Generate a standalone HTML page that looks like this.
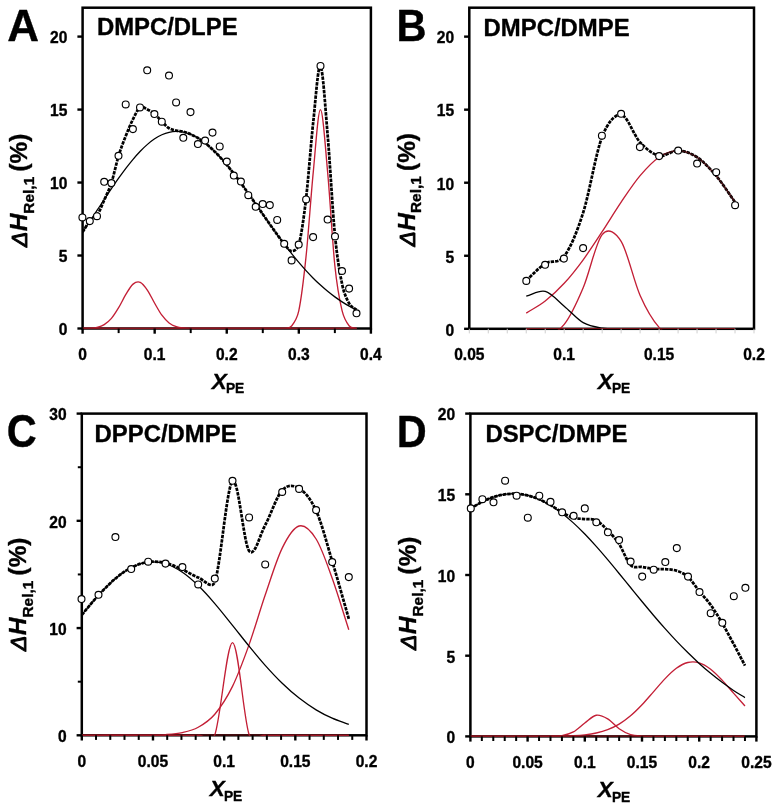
<!DOCTYPE html>
<html lang="en"><head><meta charset="utf-8"><title>Figure</title>
<style>html,body{margin:0;padding:0;background:#fff}body{width:779px;height:809px;overflow:hidden}</style>
</head><body>
<svg width="779" height="809" viewBox="0 0 779 809" style="display:block;filter:blur(0.4px);font-family:'Liberation Sans', Arial, Helvetica, sans-serif" fill="#000"><style>text{stroke:#000;stroke-width:.35px;stroke-linejoin:round}</style>
<rect width="779" height="809" fill="#fff"/>
<g><rect x="82.60" y="7.70" width="288.30" height="320.80" fill="none" stroke="#000" stroke-width="2.5"/>
<clipPath id="clipA"><rect x="82.60" y="6.70" width="288.30" height="322.50"/></clipPath><g clip-path="url(#clipA)">
<path d="M82.60 328.44 C85.00 328.36 87.40 328.39 89.81 328.20 C92.21 328.01 94.61 327.89 97.01 327.28 C99.42 326.67 101.82 326.05 104.22 324.56 C106.62 323.07 109.03 321.17 111.43 318.36 C113.83 315.55 116.23 311.67 118.64 307.69 C121.04 303.70 123.44 298.39 125.84 294.46 C128.25 290.53 130.65 286.13 133.05 284.11 C135.45 282.10 137.86 281.34 140.26 282.37 C142.66 283.40 145.06 286.80 147.47 290.28 C149.87 293.77 152.27 299.11 154.67 303.26 C157.08 307.42 159.48 311.94 161.88 315.22 C164.28 318.49 166.69 321.02 169.09 322.93 C171.49 324.83 173.89 325.79 176.30 326.64 C178.70 327.48 181.10 327.71 183.50 328.00 C185.91 328.30 188.31 328.31 190.71 328.39 C193.11 328.47 195.52 328.46 197.92 328.48 C200.32 328.50 202.72 328.49 205.13 328.50 C207.53 328.50 209.93 328.50 212.33 328.50 C214.74 328.50 217.14 328.50 219.54 328.50 C221.94 328.50 224.35 328.50 226.75 328.50 C229.15 328.50 231.55 328.50 233.96 328.50 C236.36 328.50 238.76 328.50 241.16 328.50 C243.57 328.50 245.97 328.50 248.37 328.50 C250.77 328.50 253.18 328.50 255.58 328.50 C257.98 328.50 260.38 328.50 262.79 328.50 C265.19 328.50 267.59 328.50 270.00 328.50 C272.40 328.50 274.80 328.50 277.20 328.50 C279.60 328.50 282.01 328.50 284.41 328.50 C286.81 328.50 289.21 328.50 291.62 328.50 C294.02 328.50 296.42 328.50 298.82 328.50 C301.23 328.50 303.63 328.50 306.03 328.50 C308.43 328.50 310.84 328.50 313.24 328.50 C315.64 328.50 318.04 328.50 320.45 328.50 C322.85 328.50 325.25 328.50 327.65 328.50 C330.06 328.50 332.46 328.50 334.86 328.50 C337.26 328.50 339.67 328.50 342.07 328.50 C344.47 328.50 346.87 328.50 349.28 328.50 C351.68 328.50 354.08 328.50 356.48 328.50" fill="none" stroke="#c31f36" stroke-width="1.35" stroke-linejoin="round"/>
<path d="M82.60 328.50 C85.00 328.50 87.40 328.50 89.81 328.50 C92.21 328.50 94.61 328.50 97.01 328.50 C99.42 328.50 101.82 328.50 104.22 328.50 C106.62 328.50 109.03 328.50 111.43 328.50 C113.83 328.50 116.23 328.50 118.64 328.50 C121.04 328.50 123.44 328.50 125.84 328.50 C128.25 328.50 130.65 328.50 133.05 328.50 C135.45 328.50 137.86 328.50 140.26 328.50 C142.66 328.50 145.06 328.50 147.47 328.50 C149.87 328.50 152.27 328.50 154.67 328.50 C157.08 328.50 159.48 328.50 161.88 328.50 C164.28 328.50 166.69 328.50 169.09 328.50 C171.49 328.50 173.89 328.50 176.30 328.50 C178.70 328.50 181.10 328.50 183.50 328.50 C185.91 328.50 188.31 328.50 190.71 328.50 C193.11 328.50 195.52 328.50 197.92 328.50 C200.32 328.50 202.72 328.50 205.13 328.50 C207.53 328.50 209.93 328.50 212.33 328.50 C214.74 328.50 217.14 328.50 219.54 328.50 C221.94 328.50 224.35 328.50 226.75 328.50 C229.15 328.50 231.55 328.50 233.96 328.50 C236.36 328.50 238.76 328.50 241.16 328.50 C243.57 328.50 245.97 328.50 248.37 328.50 C250.77 328.50 253.18 328.50 255.58 328.50 C257.98 328.50 260.38 328.50 262.79 328.50 C265.19 328.50 267.59 328.50 270.00 328.50 C272.40 328.50 274.80 328.52 277.20 328.49 C279.60 328.46 282.01 328.71 284.41 328.29 C286.81 327.87 289.22 328.89 291.62 325.96 C294.02 323.01 297.10 318.93 298.82 310.64 C301.23 299.08 303.63 279.68 306.03 256.63 C308.43 233.58 310.84 196.84 313.24 172.33 C315.64 147.82 318.04 109.57 320.45 109.57 C322.85 109.57 325.25 146.30 327.65 172.33 C330.06 198.36 332.46 242.69 334.86 265.74 C337.22 288.36 339.67 300.60 342.07 310.64 C344.04 318.87 346.87 323.01 349.28 325.96 C351.67 328.89 354.08 327.51 356.48 328.29" fill="none" stroke="#c31f36" stroke-width="1.35" stroke-linejoin="round"/>
<path d="M82.60 232.13 C85.00 228.54 87.40 224.99 89.81 221.37 C92.21 217.76 94.61 214.08 97.01 210.42 C99.42 206.77 101.82 203.08 104.22 199.45 C106.62 195.82 109.03 192.18 111.43 188.64 C113.83 185.11 116.23 181.59 118.64 178.21 C121.04 174.83 123.44 171.51 125.84 168.36 C128.25 165.21 130.65 162.16 133.05 159.31 C135.45 156.45 137.86 153.74 140.26 151.25 C142.66 148.76 145.06 146.43 147.47 144.37 C149.87 142.30 152.27 140.43 154.67 138.83 C157.08 137.23 159.48 135.86 161.88 134.77 C164.28 133.68 166.69 132.85 169.09 132.30 C171.49 131.75 173.89 131.48 176.30 131.47 C178.70 131.45 181.10 131.72 183.50 132.21 C185.91 132.70 188.31 133.45 190.71 134.42 C193.11 135.40 195.52 136.62 197.92 138.06 C200.32 139.49 202.72 141.17 205.13 143.03 C207.53 144.89 209.93 146.99 212.33 149.24 C214.74 151.49 217.14 153.95 219.54 156.54 C221.94 159.13 224.35 161.91 226.75 164.79 C229.15 167.67 231.55 170.70 233.96 173.81 C236.36 176.92 238.76 180.16 241.16 183.44 C243.57 186.72 245.97 190.10 248.37 193.50 C250.77 196.89 253.18 200.35 255.58 203.80 C257.98 207.25 260.38 210.74 262.79 214.19 C265.19 217.63 267.59 221.10 270.00 224.50 C272.40 227.90 274.80 231.28 277.20 234.59 C279.60 237.90 282.01 241.16 284.41 244.34 C286.81 247.52 289.21 250.63 291.62 253.65 C294.02 256.66 296.42 259.60 298.82 262.43 C301.23 265.26 303.63 267.99 306.03 270.62 C308.43 273.24 310.84 275.76 313.24 278.17 C315.64 280.58 318.04 282.88 320.45 285.07 C322.85 287.26 325.25 289.34 327.65 291.31 C330.06 293.28 332.46 295.13 334.86 296.89 C337.26 298.64 339.67 300.29 342.07 301.83 C344.47 303.38 346.87 304.82 349.28 306.18 C351.68 307.53 354.08 308.69 356.48 309.95" fill="none" stroke="#000" stroke-width="1.3" stroke-linejoin="round"/>
<path d="M82.60 232.07 C85.00 228.40 87.40 223.85 89.81 221.07 C92.21 218.29 94.61 218.89 97.01 215.39 C99.42 211.89 101.82 205.49 104.22 200.06 C106.62 194.64 109.03 190.24 111.43 182.84 C113.83 175.45 116.23 163.53 118.64 155.69 C121.04 147.86 123.44 141.95 125.84 135.84 C128.25 129.74 130.65 123.83 133.05 119.06 C135.45 114.29 137.86 108.82 140.26 107.24 C142.66 105.66 145.06 108.45 147.47 109.57 C149.87 110.69 152.27 111.93 154.67 113.95 C157.08 115.97 159.48 119.30 161.88 121.69 C164.28 124.07 166.69 126.77 169.09 128.26 C171.49 129.74 173.89 130.01 176.30 130.59 C178.70 131.17 181.10 131.09 183.50 131.71 C185.91 132.33 188.31 133.26 190.71 134.32 C193.11 135.37 195.52 136.59 197.92 138.04 C200.32 139.49 202.72 141.16 205.13 143.03 C207.53 144.90 209.93 146.98 212.33 149.24 C214.74 151.49 217.14 153.95 219.54 156.54 C221.94 159.13 224.35 161.91 226.75 164.79 C229.15 167.67 231.55 170.70 233.96 173.81 C236.36 176.92 238.76 180.16 241.16 183.44 C243.57 186.72 245.97 190.10 248.37 193.50 C250.77 196.89 253.18 200.35 255.58 203.80 C257.98 207.25 260.38 210.74 262.79 214.19 C265.19 217.63 267.59 221.10 270.00 224.50 C272.40 227.89 274.80 231.31 277.20 234.58 C279.60 237.85 282.01 241.38 284.41 244.13 C286.81 246.89 289.21 251.03 291.62 251.11 C294.02 251.18 297.53 249.26 298.82 244.57 C301.23 235.84 303.63 219.17 306.03 198.74 C308.43 178.32 310.84 144.11 313.24 122.01 C315.64 99.91 318.04 63.96 320.45 66.15 C322.85 68.34 325.25 107.14 327.65 135.14 C330.06 163.14 332.46 209.32 334.86 234.13 C337.26 258.94 339.67 272.39 342.07 283.97 C344.20 294.22 346.87 299.34 349.28 303.63 C351.58 307.76 354.08 307.71 356.48 309.74" fill="none" stroke="#000" stroke-width="2.75" stroke-dasharray="3.4 1.05" stroke-linejoin="round"/>
</g>
<line x1="82.60" y1="328.20" x2="356.48" y2="328.20" stroke="#7a1016" stroke-width="1.1"/>
<line x1="77.40" y1="328.50" x2="82.60" y2="328.50" stroke="#000" stroke-width="2.4"/>
<line x1="77.40" y1="255.52" x2="82.60" y2="255.52" stroke="#000" stroke-width="2.4"/>
<line x1="77.40" y1="182.55" x2="82.60" y2="182.55" stroke="#000" stroke-width="2.4"/>
<line x1="77.40" y1="109.57" x2="82.60" y2="109.57" stroke="#000" stroke-width="2.4"/>
<line x1="77.40" y1="36.60" x2="82.60" y2="36.60" stroke="#000" stroke-width="2.4"/>
<text transform="translate(67.40 335.30) scale(1 1.060)" text-anchor="end" font-size="15.6" font-weight="bold">0</text>
<text transform="translate(67.40 262.32) scale(1 1.060)" text-anchor="end" font-size="15.6" font-weight="bold">5</text>
<text transform="translate(67.40 189.35) scale(1 1.060)" text-anchor="end" font-size="15.6" font-weight="bold">10</text>
<text transform="translate(67.40 116.37) scale(1 1.060)" text-anchor="end" font-size="15.6" font-weight="bold">15</text>
<text transform="translate(67.40 43.40) scale(1 1.060)" text-anchor="end" font-size="15.6" font-weight="bold">20</text>
<line x1="82.60" y1="328.50" x2="82.60" y2="333.70" stroke="#000" stroke-width="2.40"/>
<line x1="118.64" y1="328.50" x2="118.64" y2="333.10" stroke="#000" stroke-width="2.00"/>
<line x1="154.67" y1="328.50" x2="154.67" y2="333.70" stroke="#000" stroke-width="2.40"/>
<line x1="190.71" y1="328.50" x2="190.71" y2="333.10" stroke="#000" stroke-width="2.00"/>
<line x1="226.75" y1="328.50" x2="226.75" y2="333.70" stroke="#000" stroke-width="2.40"/>
<line x1="262.79" y1="328.50" x2="262.79" y2="333.10" stroke="#000" stroke-width="2.00"/>
<line x1="298.82" y1="328.50" x2="298.82" y2="333.70" stroke="#000" stroke-width="2.40"/>
<line x1="334.86" y1="328.50" x2="334.86" y2="333.10" stroke="#000" stroke-width="2.00"/>
<line x1="370.90" y1="328.50" x2="370.90" y2="333.70" stroke="#000" stroke-width="2.40"/>
<text transform="translate(82.60 359.80) scale(1 1.060)" text-anchor="middle" font-size="15.6" font-weight="bold">0</text>
<text transform="translate(154.67 359.80) scale(1 1.060)" text-anchor="middle" font-size="15.6" font-weight="bold">0.1</text>
<text transform="translate(226.75 359.80) scale(1 1.060)" text-anchor="middle" font-size="15.6" font-weight="bold">0.2</text>
<text transform="translate(298.82 359.80) scale(1 1.060)" text-anchor="middle" font-size="15.6" font-weight="bold">0.3</text>
<text transform="translate(370.90 359.80) scale(1 1.060)" text-anchor="middle" font-size="15.6" font-weight="bold">0.4</text>
<circle cx="82.4" cy="217.4" r="3.45" fill="#fff" stroke="#000" stroke-width="1.15"/>
<circle cx="89.8" cy="221.1" r="3.45" fill="#fff" stroke="#000" stroke-width="1.15"/>
<circle cx="97.0" cy="216.2" r="3.45" fill="#fff" stroke="#000" stroke-width="1.15"/>
<circle cx="104.2" cy="181.8" r="3.45" fill="#fff" stroke="#000" stroke-width="1.15"/>
<circle cx="111.4" cy="183.0" r="3.45" fill="#fff" stroke="#000" stroke-width="1.15"/>
<circle cx="118.5" cy="155.8" r="3.45" fill="#fff" stroke="#000" stroke-width="1.15"/>
<circle cx="125.7" cy="104.4" r="3.45" fill="#fff" stroke="#000" stroke-width="1.15"/>
<circle cx="132.9" cy="129.1" r="3.45" fill="#fff" stroke="#000" stroke-width="1.15"/>
<circle cx="140.0" cy="107.4" r="3.45" fill="#fff" stroke="#000" stroke-width="1.15"/>
<circle cx="147.2" cy="70.3" r="3.45" fill="#fff" stroke="#000" stroke-width="1.15"/>
<circle cx="154.4" cy="114.0" r="3.45" fill="#fff" stroke="#000" stroke-width="1.15"/>
<circle cx="161.8" cy="121.7" r="3.45" fill="#fff" stroke="#000" stroke-width="1.15"/>
<circle cx="169.0" cy="75.5" r="3.45" fill="#fff" stroke="#000" stroke-width="1.15"/>
<circle cx="176.1" cy="102.4" r="3.45" fill="#fff" stroke="#000" stroke-width="1.15"/>
<circle cx="183.3" cy="137.8" r="3.45" fill="#fff" stroke="#000" stroke-width="1.15"/>
<circle cx="190.5" cy="112.1" r="3.45" fill="#fff" stroke="#000" stroke-width="1.15"/>
<circle cx="197.9" cy="144.0" r="3.45" fill="#fff" stroke="#000" stroke-width="1.15"/>
<circle cx="205.1" cy="140.5" r="3.45" fill="#fff" stroke="#000" stroke-width="1.15"/>
<circle cx="212.5" cy="132.6" r="3.45" fill="#fff" stroke="#000" stroke-width="1.15"/>
<circle cx="219.7" cy="146.4" r="3.45" fill="#fff" stroke="#000" stroke-width="1.15"/>
<circle cx="226.8" cy="161.5" r="3.45" fill="#fff" stroke="#000" stroke-width="1.15"/>
<circle cx="233.8" cy="175.5" r="3.45" fill="#fff" stroke="#000" stroke-width="1.15"/>
<circle cx="240.9" cy="181.5" r="3.45" fill="#fff" stroke="#000" stroke-width="1.15"/>
<circle cx="248.3" cy="195.2" r="3.45" fill="#fff" stroke="#000" stroke-width="1.15"/>
<circle cx="255.7" cy="206.8" r="3.45" fill="#fff" stroke="#000" stroke-width="1.15"/>
<circle cx="262.7" cy="204.0" r="3.45" fill="#fff" stroke="#000" stroke-width="1.15"/>
<circle cx="269.8" cy="205.1" r="3.45" fill="#fff" stroke="#000" stroke-width="1.15"/>
<circle cx="277.2" cy="219.9" r="3.45" fill="#fff" stroke="#000" stroke-width="1.15"/>
<circle cx="284.2" cy="243.8" r="3.45" fill="#fff" stroke="#000" stroke-width="1.15"/>
<circle cx="291.6" cy="260.4" r="3.45" fill="#fff" stroke="#000" stroke-width="1.15"/>
<circle cx="298.7" cy="244.5" r="3.45" fill="#fff" stroke="#000" stroke-width="1.15"/>
<circle cx="306.1" cy="199.4" r="3.45" fill="#fff" stroke="#000" stroke-width="1.15"/>
<circle cx="313.1" cy="237.1" r="3.45" fill="#fff" stroke="#000" stroke-width="1.15"/>
<circle cx="320.5" cy="65.9" r="3.45" fill="#fff" stroke="#000" stroke-width="1.15"/>
<circle cx="327.6" cy="219.5" r="3.45" fill="#fff" stroke="#000" stroke-width="1.15"/>
<circle cx="335.0" cy="236.4" r="3.45" fill="#fff" stroke="#000" stroke-width="1.15"/>
<circle cx="342.0" cy="271.0" r="3.45" fill="#fff" stroke="#000" stroke-width="1.15"/>
<circle cx="349.1" cy="288.6" r="3.45" fill="#fff" stroke="#000" stroke-width="1.15"/>
<circle cx="356.5" cy="313.3" r="3.45" fill="#fff" stroke="#000" stroke-width="1.15"/>
<text x="96.9" y="35.2" font-size="23.9" font-weight="bold">DMPC/DLPE</text>
<text transform="translate(7.3 40.6) scale(1 1.014)" font-size="44.0" font-weight="bold">A</text>
<text transform="translate(26.9 190.4) rotate(-90) scale(1.06 1)" text-anchor="middle" font-size="23" font-weight="bold"><tspan font-style="italic" font-weight="normal" font-size="21.5" style="stroke-width:.9px">Δ</tspan><tspan font-style="italic" dx="0.5">H</tspan><tspan font-size="14.6" dy="6.6">Rel,1</tspan><tspan dy="-6.6" dx="-1.5"> (%)</tspan></text>
<text x="211.7" y="388.7" font-size="22.5" font-weight="bold"><tspan font-style="italic">X</tspan><tspan font-size="13.8" dy="4.7" dx="-0.8">PE</tspan></text></g>
<g><rect x="469.30" y="7.70" width="284.70" height="321.10" fill="none" stroke="#000" stroke-width="2.5"/>
<clipPath id="clipB"><rect x="469.30" y="6.70" width="284.70" height="322.80"/></clipPath><g clip-path="url(#clipB)">
<path d="M526.24 313.09 C532.57 309.07 538.89 306.00 545.22 301.04 C551.55 296.08 557.87 290.21 564.20 283.33 C570.53 276.45 576.85 268.39 583.18 259.78 C589.51 251.17 595.83 241.29 602.16 231.68 C608.49 222.07 614.81 211.47 621.14 202.13 C627.47 192.80 633.79 183.16 640.12 175.67 C646.45 168.18 652.77 161.39 659.10 157.21 C665.43 153.03 671.75 150.57 678.08 150.57 C684.41 150.57 690.73 153.03 697.06 157.21 C703.39 161.39 709.71 168.18 716.04 175.67 C722.37 183.16 728.69 193.31 735.02 202.13" fill="none" stroke="#c31f36" stroke-width="1.35" stroke-linejoin="round"/>
<path d="M526.24 328.80 C532.57 330.99 538.89 336.10 545.22 335.37 C551.55 334.64 557.87 332.35 564.20 324.42 C570.53 316.48 576.85 302.72 583.18 287.75 C589.51 272.78 595.83 242.29 602.16 234.57 C608.49 226.86 615.80 232.87 621.14 241.44 C627.47 251.59 633.79 281.18 640.12 295.49 C646.45 309.81 652.77 320.33 659.10 327.34 C665.43 334.35 671.75 335.86 678.08 337.57 C684.41 339.27 690.73 337.57 697.06 337.57 C703.39 337.57 709.71 337.57 716.04 337.57 C722.37 337.57 728.69 337.57 735.02 337.57" fill="none" stroke="#c31f36" stroke-width="1.35" stroke-linejoin="round"/>
<path d="M526.24 296.11 C532.57 294.53 538.89 289.69 545.22 291.36 C551.55 293.03 557.87 300.93 564.20 306.14 C570.53 311.35 576.85 318.97 583.18 322.62 C589.51 326.27 595.83 327.02 602.16 328.04 C608.49 329.06 614.81 328.63 621.14 328.76 C627.47 328.88 633.79 328.79 640.12 328.80 C646.45 328.81 652.77 328.80 659.10 328.80 C665.43 328.80 671.75 328.80 678.08 328.80 C684.41 328.80 690.73 328.80 697.06 328.80 C703.39 328.80 709.71 328.80 716.04 328.80 C722.37 328.80 728.69 328.80 735.02 328.80" fill="none" stroke="#000" stroke-width="1.3" stroke-linejoin="round"/>
<path d="M526.24 280.40 C532.57 274.80 538.89 267.62 545.22 263.60 C551.55 259.58 558.13 264.45 564.20 256.29 C570.53 247.78 576.85 232.48 583.18 212.55 C589.51 192.62 595.83 153.00 602.16 136.70 C607.41 123.16 614.81 113.79 621.14 114.73 C627.47 115.68 633.79 135.53 640.12 142.36 C646.45 149.20 652.77 154.38 659.10 155.75 C665.43 157.12 671.75 150.33 678.08 150.57 C684.41 150.82 690.73 153.03 697.06 157.21 C703.39 161.39 709.71 168.18 716.04 175.67 C722.37 183.16 728.69 193.31 735.02 202.13" fill="none" stroke="#000" stroke-width="2.75" stroke-dasharray="3.4 1.05" stroke-linejoin="round"/>
<path d="M659.10 155.75 C665.43 154.02 671.75 150.33 678.08 150.57 C684.41 150.82 690.73 153.03 697.06 157.21 C703.39 161.39 709.71 168.18 716.04 175.67 C722.37 183.16 728.69 193.31 735.02 202.13" fill="none" stroke="#3a0d10" stroke-width="1.3"/>
</g>
<line x1="526.24" y1="328.50" x2="735.02" y2="328.50" stroke="#7a1016" stroke-width="1.1"/>
<line x1="464.10" y1="328.80" x2="469.30" y2="328.80" stroke="#000" stroke-width="2.4"/>
<line x1="464.10" y1="255.76" x2="469.30" y2="255.76" stroke="#000" stroke-width="2.4"/>
<line x1="464.10" y1="182.71" x2="469.30" y2="182.71" stroke="#000" stroke-width="2.4"/>
<line x1="464.10" y1="109.67" x2="469.30" y2="109.67" stroke="#000" stroke-width="2.4"/>
<line x1="464.10" y1="36.63" x2="469.30" y2="36.63" stroke="#000" stroke-width="2.4"/>
<text transform="translate(454.10 335.60) scale(1 1.060)" text-anchor="end" font-size="15.6" font-weight="bold">0</text>
<text transform="translate(454.10 262.56) scale(1 1.060)" text-anchor="end" font-size="15.6" font-weight="bold">5</text>
<text transform="translate(454.10 189.51) scale(1 1.060)" text-anchor="end" font-size="15.6" font-weight="bold">10</text>
<text transform="translate(454.10 116.47) scale(1 1.060)" text-anchor="end" font-size="15.6" font-weight="bold">15</text>
<text transform="translate(454.10 43.43) scale(1 1.060)" text-anchor="end" font-size="15.6" font-weight="bold">20</text>
<line x1="469.30" y1="328.80" x2="469.30" y2="333.40" stroke="#cfcfcf" stroke-width="1.00"/>
<line x1="488.28" y1="328.80" x2="488.28" y2="333.40" stroke="#cfcfcf" stroke-width="1.00"/>
<line x1="507.26" y1="328.80" x2="507.26" y2="333.40" stroke="#cfcfcf" stroke-width="1.00"/>
<line x1="526.24" y1="328.80" x2="526.24" y2="333.40" stroke="#cfcfcf" stroke-width="1.00"/>
<line x1="545.22" y1="328.80" x2="545.22" y2="333.40" stroke="#cfcfcf" stroke-width="1.00"/>
<line x1="564.20" y1="328.80" x2="564.20" y2="333.40" stroke="#cfcfcf" stroke-width="1.00"/>
<line x1="583.18" y1="328.80" x2="583.18" y2="333.40" stroke="#cfcfcf" stroke-width="1.00"/>
<line x1="602.16" y1="328.80" x2="602.16" y2="333.40" stroke="#cfcfcf" stroke-width="1.00"/>
<line x1="621.14" y1="328.80" x2="621.14" y2="333.40" stroke="#cfcfcf" stroke-width="1.00"/>
<line x1="640.12" y1="328.80" x2="640.12" y2="333.40" stroke="#cfcfcf" stroke-width="1.00"/>
<line x1="659.10" y1="328.80" x2="659.10" y2="333.40" stroke="#cfcfcf" stroke-width="1.00"/>
<line x1="678.08" y1="328.80" x2="678.08" y2="333.40" stroke="#cfcfcf" stroke-width="1.00"/>
<line x1="697.06" y1="328.80" x2="697.06" y2="333.40" stroke="#cfcfcf" stroke-width="1.00"/>
<line x1="716.04" y1="328.80" x2="716.04" y2="333.40" stroke="#cfcfcf" stroke-width="1.00"/>
<line x1="735.02" y1="328.80" x2="735.02" y2="333.40" stroke="#cfcfcf" stroke-width="1.00"/>
<line x1="754.00" y1="328.80" x2="754.00" y2="333.40" stroke="#cfcfcf" stroke-width="1.00"/>
<text transform="translate(469.30 360.10) scale(1 1.060)" text-anchor="middle" font-size="15.6" font-weight="bold">0.05</text>
<text transform="translate(564.20 360.10) scale(1 1.060)" text-anchor="middle" font-size="15.6" font-weight="bold">0.1</text>
<text transform="translate(659.10 360.10) scale(1 1.060)" text-anchor="middle" font-size="15.6" font-weight="bold">0.15</text>
<text transform="translate(754.00 360.10) scale(1 1.060)" text-anchor="middle" font-size="15.6" font-weight="bold">0.2</text>
<circle cx="526.3" cy="280.9" r="3.45" fill="#fff" stroke="#000" stroke-width="1.15"/>
<circle cx="545.1" cy="264.8" r="3.45" fill="#fff" stroke="#000" stroke-width="1.15"/>
<circle cx="563.9" cy="258.6" r="3.45" fill="#fff" stroke="#000" stroke-width="1.15"/>
<circle cx="583.1" cy="248.1" r="3.45" fill="#fff" stroke="#000" stroke-width="1.15"/>
<circle cx="601.9" cy="135.7" r="3.45" fill="#fff" stroke="#000" stroke-width="1.15"/>
<circle cx="621.1" cy="113.8" r="3.45" fill="#fff" stroke="#000" stroke-width="1.15"/>
<circle cx="639.9" cy="147.1" r="3.45" fill="#fff" stroke="#000" stroke-width="1.15"/>
<circle cx="659.1" cy="156.1" r="3.45" fill="#fff" stroke="#000" stroke-width="1.15"/>
<circle cx="678.2" cy="150.5" r="3.45" fill="#fff" stroke="#000" stroke-width="1.15"/>
<circle cx="697.1" cy="163.5" r="3.45" fill="#fff" stroke="#000" stroke-width="1.15"/>
<circle cx="716.2" cy="172.2" r="3.45" fill="#fff" stroke="#000" stroke-width="1.15"/>
<circle cx="735.1" cy="205.2" r="3.45" fill="#fff" stroke="#000" stroke-width="1.15"/>
<text x="483.6" y="35.5" font-size="23.9" font-weight="bold">DMPC/DMPE</text>
<text transform="translate(396.5 40.7) scale(1 1.075)" font-size="41.5" font-weight="bold">B</text>
<text transform="translate(414.5 189.8) rotate(-90) scale(1.06 1)" text-anchor="middle" font-size="23" font-weight="bold"><tspan font-style="italic" font-weight="normal" font-size="21.5" style="stroke-width:.9px">Δ</tspan><tspan font-style="italic" dx="0.5">H</tspan><tspan font-size="14.6" dy="6.6">Rel,1</tspan><tspan dy="-6.6" dx="-1.5"> (%)</tspan></text>
<text x="597.7" y="388.7" font-size="22.5" font-weight="bold"><tspan font-style="italic">X</tspan><tspan font-size="13.8" dy="4.7" dx="-0.8">PE</tspan></text></g>
<g><rect x="81.80" y="413.60" width="284.70" height="321.70" fill="none" stroke="#000" stroke-width="2.5"/>
<clipPath id="clipC"><rect x="81.80" y="412.60" width="284.70" height="323.40"/></clipPath><g clip-path="url(#clipC)">
<path d="M81.80 735.30 C87.37 735.30 92.90 735.30 98.50 735.30 C104.10 735.30 109.95 735.30 115.40 735.30 C120.85 735.30 125.73 735.30 131.20 735.30 C136.67 735.30 142.48 735.30 148.20 735.30 C153.92 735.30 159.80 735.30 165.50 735.30 C171.20 735.30 176.95 735.30 182.40 735.30 C187.85 735.30 192.80 735.38 198.20 735.30 C203.60 735.22 211.92 742.62 214.80 734.84 C220.52 719.38 226.78 642.61 232.50 642.56 C238.22 642.50 243.65 719.05 249.10 734.51 C251.78 742.11 259.68 735.17 265.20 735.30 C270.72 735.43 276.55 735.30 282.20 735.30 C287.85 735.30 293.45 735.30 299.10 735.30 C304.75 735.30 310.58 735.30 316.10 735.30 C321.62 735.30 326.75 735.30 332.20 735.30 C337.65 735.30 343.27 735.30 348.80 735.30" fill="none" stroke="#c31f36" stroke-width="1.35" stroke-linejoin="round"/>
<path d="M81.80 735.30 C87.37 735.30 92.90 735.30 98.50 735.30 C104.10 735.30 109.95 735.30 115.40 735.29 C120.85 735.29 125.73 735.30 131.20 735.27 C136.67 735.24 142.48 735.26 148.20 735.14 C153.92 735.02 159.80 735.00 165.50 734.57 C171.20 734.13 176.95 733.77 182.40 732.55 C187.85 731.34 192.80 730.32 198.20 727.26 C203.60 724.20 209.08 721.03 214.80 714.21 C220.52 707.39 226.78 697.93 232.50 686.33 C238.22 674.74 243.65 659.85 249.10 644.64 C254.55 629.42 259.68 611.13 265.20 595.04 C270.72 578.96 276.55 559.62 282.20 548.12 C287.85 536.61 293.45 527.53 299.10 526.01 C304.75 524.49 310.58 530.27 316.10 538.99 C321.62 547.71 326.75 563.21 332.20 578.33 C337.65 593.45 343.27 612.60 348.80 629.73" fill="none" stroke="#c31f36" stroke-width="1.35" stroke-linejoin="round"/>
<path d="M81.80 614.89 C87.37 608.33 92.90 601.27 98.50 595.22 C104.10 589.17 109.95 583.19 115.40 578.59 C120.85 573.99 125.73 570.38 131.20 567.63 C136.67 564.88 142.48 562.73 148.20 562.08 C153.92 561.43 159.80 562.05 165.50 563.75 C171.20 565.45 176.95 568.66 182.40 572.30 C187.85 575.94 192.80 580.37 198.20 585.59 C203.60 590.80 209.08 596.97 214.80 603.59 C220.52 610.21 226.78 618.23 232.50 625.33 C238.22 632.43 243.65 639.51 249.10 646.18 C254.55 652.85 259.68 659.15 265.20 665.33 C270.72 671.50 276.55 677.79 282.20 683.25 C287.85 688.71 293.45 693.66 299.10 698.09 C304.75 702.52 310.58 706.48 316.10 709.83 C321.62 713.18 326.75 715.76 332.20 718.18 C337.65 720.61 343.27 722.31 348.80 724.37" fill="none" stroke="#000" stroke-width="1.3" stroke-linejoin="round"/>
<path d="M81.80 614.89 C87.37 608.33 92.90 601.27 98.50 595.22 C104.10 589.17 109.95 583.19 115.40 578.58 C120.85 573.98 125.73 570.38 131.20 567.60 C136.67 564.82 142.48 562.69 148.20 561.92 C153.92 561.16 159.80 561.74 165.50 563.01 C171.20 564.28 176.95 567.13 182.40 569.55 C187.85 571.97 192.80 575.47 198.20 577.55 C203.60 579.63 211.92 590.14 214.80 582.04 C220.52 565.97 226.78 486.35 232.50 481.16 C238.22 475.96 243.65 543.54 249.10 550.86 C254.55 558.18 259.68 535.17 265.20 525.07 C270.72 514.97 276.55 496.38 282.20 490.27 C287.85 484.17 293.45 485.05 299.10 488.45 C304.75 491.84 310.58 498.52 316.10 510.65 C321.62 522.77 326.75 543.19 332.20 561.21 C337.65 579.24 343.27 599.60 348.80 618.80" fill="none" stroke="#000" stroke-width="2.75" stroke-dasharray="3.4 1.05" stroke-linejoin="round"/>
</g>
<line x1="81.80" y1="735.00" x2="348.80" y2="735.00" stroke="#7a1016" stroke-width="1.1"/>
<line x1="76.60" y1="735.30" x2="81.80" y2="735.30" stroke="#000" stroke-width="2.4"/>
<line x1="77.80" y1="681.68" x2="81.80" y2="681.68" stroke="#000" stroke-width="2.0"/>
<line x1="76.60" y1="628.07" x2="81.80" y2="628.07" stroke="#000" stroke-width="2.4"/>
<line x1="77.80" y1="574.45" x2="81.80" y2="574.45" stroke="#000" stroke-width="2.0"/>
<line x1="76.60" y1="520.83" x2="81.80" y2="520.83" stroke="#000" stroke-width="2.4"/>
<line x1="77.80" y1="467.22" x2="81.80" y2="467.22" stroke="#000" stroke-width="2.0"/>
<line x1="76.60" y1="413.60" x2="81.80" y2="413.60" stroke="#000" stroke-width="2.4"/>
<text transform="translate(66.60 742.10) scale(1 1.060)" text-anchor="end" font-size="15.6" font-weight="bold">0</text>
<text transform="translate(66.60 634.87) scale(1 1.060)" text-anchor="end" font-size="15.6" font-weight="bold">10</text>
<text transform="translate(66.60 527.63) scale(1 1.060)" text-anchor="end" font-size="15.6" font-weight="bold">20</text>
<text transform="translate(66.60 420.40) scale(1 1.060)" text-anchor="end" font-size="15.6" font-weight="bold">30</text>
<line x1="81.80" y1="735.30" x2="81.80" y2="740.50" stroke="#000" stroke-width="2.40"/>
<line x1="96.03" y1="735.30" x2="96.03" y2="739.90" stroke="#000" stroke-width="2.00"/>
<line x1="110.27" y1="735.30" x2="110.27" y2="739.90" stroke="#000" stroke-width="2.00"/>
<line x1="124.50" y1="735.30" x2="124.50" y2="739.90" stroke="#000" stroke-width="2.00"/>
<line x1="138.74" y1="735.30" x2="138.74" y2="739.90" stroke="#000" stroke-width="2.00"/>
<line x1="152.97" y1="735.30" x2="152.97" y2="740.50" stroke="#000" stroke-width="2.40"/>
<line x1="167.21" y1="735.30" x2="167.21" y2="739.90" stroke="#000" stroke-width="2.00"/>
<line x1="181.44" y1="735.30" x2="181.44" y2="739.90" stroke="#000" stroke-width="2.00"/>
<line x1="195.68" y1="735.30" x2="195.68" y2="739.90" stroke="#000" stroke-width="2.00"/>
<line x1="209.91" y1="735.30" x2="209.91" y2="739.90" stroke="#000" stroke-width="2.00"/>
<line x1="224.15" y1="735.30" x2="224.15" y2="740.50" stroke="#000" stroke-width="2.40"/>
<line x1="238.38" y1="735.30" x2="238.38" y2="739.90" stroke="#000" stroke-width="2.00"/>
<line x1="252.62" y1="735.30" x2="252.62" y2="739.90" stroke="#000" stroke-width="2.00"/>
<line x1="266.86" y1="735.30" x2="266.86" y2="739.90" stroke="#000" stroke-width="2.00"/>
<line x1="281.09" y1="735.30" x2="281.09" y2="739.90" stroke="#000" stroke-width="2.00"/>
<line x1="295.32" y1="735.30" x2="295.32" y2="740.50" stroke="#000" stroke-width="2.40"/>
<line x1="309.56" y1="735.30" x2="309.56" y2="739.90" stroke="#000" stroke-width="2.00"/>
<line x1="323.79" y1="735.30" x2="323.79" y2="739.90" stroke="#000" stroke-width="2.00"/>
<line x1="338.03" y1="735.30" x2="338.03" y2="739.90" stroke="#000" stroke-width="2.00"/>
<line x1="352.26" y1="735.30" x2="352.26" y2="739.90" stroke="#000" stroke-width="2.00"/>
<line x1="366.50" y1="735.30" x2="366.50" y2="740.50" stroke="#000" stroke-width="2.40"/>
<text transform="translate(81.80 766.60) scale(1 1.060)" text-anchor="middle" font-size="15.6" font-weight="bold">0</text>
<text transform="translate(152.97 766.60) scale(1 1.060)" text-anchor="middle" font-size="15.6" font-weight="bold">0.05</text>
<text transform="translate(224.15 766.60) scale(1 1.060)" text-anchor="middle" font-size="15.6" font-weight="bold">0.1</text>
<text transform="translate(295.32 766.60) scale(1 1.060)" text-anchor="middle" font-size="15.6" font-weight="bold">0.15</text>
<text transform="translate(366.50 766.60) scale(1 1.060)" text-anchor="middle" font-size="15.6" font-weight="bold">0.2</text>
<circle cx="81.5" cy="599.0" r="3.45" fill="#fff" stroke="#000" stroke-width="1.15"/>
<circle cx="98.5" cy="594.8" r="3.45" fill="#fff" stroke="#000" stroke-width="1.15"/>
<circle cx="115.4" cy="537.0" r="3.45" fill="#fff" stroke="#000" stroke-width="1.15"/>
<circle cx="131.2" cy="569.0" r="3.45" fill="#fff" stroke="#000" stroke-width="1.15"/>
<circle cx="148.2" cy="561.7" r="3.45" fill="#fff" stroke="#000" stroke-width="1.15"/>
<circle cx="165.5" cy="563.6" r="3.45" fill="#fff" stroke="#000" stroke-width="1.15"/>
<circle cx="182.4" cy="567.1" r="3.45" fill="#fff" stroke="#000" stroke-width="1.15"/>
<circle cx="198.2" cy="584.4" r="3.45" fill="#fff" stroke="#000" stroke-width="1.15"/>
<circle cx="214.8" cy="578.6" r="3.45" fill="#fff" stroke="#000" stroke-width="1.15"/>
<circle cx="232.5" cy="480.8" r="3.45" fill="#fff" stroke="#000" stroke-width="1.15"/>
<circle cx="249.1" cy="517.4" r="3.45" fill="#fff" stroke="#000" stroke-width="1.15"/>
<circle cx="265.2" cy="564.4" r="3.45" fill="#fff" stroke="#000" stroke-width="1.15"/>
<circle cx="282.2" cy="492.0" r="3.45" fill="#fff" stroke="#000" stroke-width="1.15"/>
<circle cx="299.1" cy="488.9" r="3.45" fill="#fff" stroke="#000" stroke-width="1.15"/>
<circle cx="316.1" cy="510.1" r="3.45" fill="#fff" stroke="#000" stroke-width="1.15"/>
<circle cx="332.2" cy="562.1" r="3.45" fill="#fff" stroke="#000" stroke-width="1.15"/>
<circle cx="348.8" cy="577.1" r="3.45" fill="#fff" stroke="#000" stroke-width="1.15"/>
<text x="94.6" y="441.7" font-size="23.9" font-weight="bold">DPPC/DMPE</text>
<text transform="translate(6.7 447.3) scale(1 1.100)" font-size="41.5" font-weight="bold">C</text>
<text transform="translate(25.9 594.3) rotate(-90) scale(1.06 1)" text-anchor="middle" font-size="23" font-weight="bold"><tspan font-style="italic" font-weight="normal" font-size="21.5" style="stroke-width:.9px">Δ</tspan><tspan font-style="italic" dx="0.5">H</tspan><tspan font-size="14.6" dy="6.6">Rel,1</tspan><tspan dy="-6.6" dx="-1.5"> (%)</tspan></text>
<text x="209.7" y="796.0" font-size="22.5" font-weight="bold"><tspan font-style="italic">X</tspan><tspan font-size="13.8" dy="4.7" dx="-0.8">PE</tspan></text></g>
<g><rect x="470.40" y="413.60" width="286.00" height="322.80" fill="none" stroke="#000" stroke-width="2.5"/>
<clipPath id="clipD"><rect x="470.40" y="412.60" width="286.00" height="324.50"/></clipPath><g clip-path="url(#clipD)">
<path d="M470.40 736.40 C474.21 736.40 478.03 736.40 481.84 736.40 C485.65 736.40 489.47 736.40 493.28 736.40 C497.09 736.40 500.91 736.40 504.72 736.40 C508.53 736.40 512.35 736.40 516.16 736.40 C519.97 736.40 523.79 736.40 527.60 736.40 C531.41 736.40 535.23 736.41 539.04 736.40 C542.85 736.38 546.67 736.46 550.48 736.33 C554.29 736.19 558.11 736.34 561.92 735.61 C565.73 734.87 569.55 734.01 573.36 731.90 C577.17 729.80 580.99 725.74 584.80 722.96 C588.61 720.19 592.43 715.93 596.24 715.23 C600.05 714.54 603.87 716.58 607.68 718.82 C611.49 721.06 615.31 726.07 619.12 728.70 C622.93 731.33 626.75 733.37 630.56 734.62 C634.37 735.87 638.19 735.89 642.00 736.18 C645.81 736.48 649.63 736.35 653.44 736.39 C657.25 736.42 661.07 736.40 664.88 736.40 C668.69 736.40 672.51 736.40 676.32 736.40 C680.13 736.40 683.95 736.40 687.76 736.40 C691.57 736.40 695.39 736.40 699.20 736.40 C703.01 736.40 706.83 736.40 710.64 736.40 C714.45 736.40 718.27 736.40 722.08 736.40 C725.89 736.40 729.71 736.40 733.52 736.40 C737.33 736.40 741.15 736.40 744.96 736.40" fill="none" stroke="#c31f36" stroke-width="1.35" stroke-linejoin="round"/>
<path d="M470.40 736.40 C474.21 736.40 478.03 736.40 481.84 736.40 C485.65 736.40 489.47 736.40 493.28 736.40 C497.09 736.40 500.91 736.40 504.72 736.40 C508.53 736.40 512.35 736.40 516.16 736.40 C519.97 736.40 523.79 736.40 527.60 736.39 C531.41 736.39 535.23 736.38 539.04 736.37 C542.85 736.36 546.67 736.35 550.48 736.31 C554.29 736.27 558.11 736.24 561.92 736.14 C565.73 736.05 569.55 735.96 573.36 735.74 C577.17 735.52 580.99 735.29 584.80 734.83 C588.61 734.38 592.43 733.87 596.24 733.00 C600.05 732.14 603.87 731.13 607.68 729.64 C611.49 728.15 615.31 726.38 619.12 724.07 C622.93 721.75 626.75 718.99 630.56 715.77 C634.37 712.54 638.19 708.72 642.00 704.74 C645.81 700.75 649.63 696.15 653.44 691.84 C657.25 687.53 661.07 682.80 664.88 678.88 C668.69 674.96 672.51 671.05 676.32 668.32 C680.13 665.58 683.95 663.40 687.76 662.48 C691.57 661.56 695.39 661.68 699.20 662.80 C703.01 663.92 706.83 666.31 710.64 669.19 C714.45 672.08 718.27 676.12 722.08 680.11 C725.89 684.11 729.71 688.86 733.52 693.17 C737.33 697.47 741.15 701.69 744.96 705.94" fill="none" stroke="#c31f36" stroke-width="1.35" stroke-linejoin="round"/>
<path d="M470.40 508.79 C474.21 506.51 478.03 503.91 481.84 501.96 C485.65 500.01 489.47 498.36 493.28 497.09 C497.09 495.82 500.91 494.89 504.72 494.34 C508.53 493.78 512.35 493.59 516.16 493.78 C519.97 493.96 523.79 494.52 527.60 495.44 C531.41 496.36 535.23 497.67 539.04 499.31 C542.85 500.95 546.67 502.96 550.48 505.28 C554.29 507.60 558.11 510.27 561.92 513.21 C565.73 516.14 569.55 519.41 573.36 522.89 C577.17 526.36 580.99 530.13 584.80 534.06 C588.61 537.98 592.43 542.16 596.24 546.43 C600.05 550.70 603.87 555.17 607.68 559.68 C611.49 564.19 615.31 568.84 619.12 573.48 C622.93 578.13 626.75 582.86 630.56 587.53 C634.37 592.20 638.19 596.91 642.00 601.52 C645.81 606.14 649.63 610.74 653.44 615.21 C657.25 619.69 661.07 624.11 664.88 628.39 C668.69 632.66 672.51 636.85 676.32 640.88 C680.13 644.91 683.95 648.82 687.76 652.58 C691.57 656.33 695.39 659.95 699.20 663.41 C703.01 666.87 706.83 670.18 710.64 673.33 C714.45 676.49 718.27 679.49 722.08 682.34 C725.89 685.19 729.71 687.89 733.52 690.44 C737.33 692.99 741.15 695.25 744.96 697.65" fill="none" stroke="#000" stroke-width="1.3" stroke-linejoin="round"/>
<path d="M470.40 508.79 C474.21 506.51 478.03 503.91 481.84 501.96 C485.65 500.01 489.47 498.36 493.28 497.09 C497.09 495.82 500.91 494.89 504.72 494.34 C508.53 493.78 512.35 493.59 516.16 493.77 C519.97 493.96 523.79 494.52 527.60 495.43 C531.41 496.35 535.23 497.66 539.04 499.27 C542.85 500.89 546.67 502.97 550.48 505.11 C554.29 507.26 558.11 510.06 561.92 512.16 C565.73 514.26 569.55 516.58 573.36 517.73 C577.17 518.88 580.99 518.60 584.80 519.05 C588.61 519.51 592.43 518.55 596.24 520.45 C600.05 522.35 603.87 526.53 607.68 530.45 C611.49 534.38 615.31 538.23 619.12 544.01 C622.93 549.79 626.75 561.30 630.56 565.12 C634.37 568.94 638.19 566.30 642.00 566.93 C645.81 567.56 649.63 568.49 653.44 568.87 C657.25 569.24 661.07 568.89 664.88 569.19 C668.69 569.49 672.51 569.40 676.32 570.64 C680.13 571.88 683.95 573.20 687.76 576.61 C691.57 580.03 695.39 586.43 699.20 591.14 C703.01 595.85 706.83 599.56 710.64 604.86 C714.45 610.16 718.27 616.45 722.08 622.94 C725.89 629.42 729.71 636.65 733.52 643.76 C737.33 650.86 741.15 658.28 744.96 665.55" fill="none" stroke="#000" stroke-width="2.75" stroke-dasharray="3.4 1.05" stroke-linejoin="round"/>
</g>
<line x1="470.40" y1="736.10" x2="744.96" y2="736.10" stroke="#7a1016" stroke-width="1.1"/>
<line x1="465.20" y1="736.40" x2="470.40" y2="736.40" stroke="#000" stroke-width="2.4"/>
<line x1="465.20" y1="655.70" x2="470.40" y2="655.70" stroke="#000" stroke-width="2.4"/>
<line x1="465.20" y1="575.00" x2="470.40" y2="575.00" stroke="#000" stroke-width="2.4"/>
<line x1="465.20" y1="494.30" x2="470.40" y2="494.30" stroke="#000" stroke-width="2.4"/>
<line x1="465.20" y1="413.60" x2="470.40" y2="413.60" stroke="#000" stroke-width="2.4"/>
<text transform="translate(455.20 743.20) scale(1 1.060)" text-anchor="end" font-size="15.6" font-weight="bold">0</text>
<text transform="translate(455.20 662.50) scale(1 1.060)" text-anchor="end" font-size="15.6" font-weight="bold">5</text>
<text transform="translate(455.20 581.80) scale(1 1.060)" text-anchor="end" font-size="15.6" font-weight="bold">10</text>
<text transform="translate(455.20 501.10) scale(1 1.060)" text-anchor="end" font-size="15.6" font-weight="bold">15</text>
<text transform="translate(455.20 420.40) scale(1 1.060)" text-anchor="end" font-size="15.6" font-weight="bold">20</text>
<line x1="470.40" y1="736.40" x2="470.40" y2="741.60" stroke="#000" stroke-width="2.40"/>
<line x1="481.84" y1="736.40" x2="481.84" y2="741.00" stroke="#000" stroke-width="2.00"/>
<line x1="493.28" y1="736.40" x2="493.28" y2="741.00" stroke="#000" stroke-width="2.00"/>
<line x1="504.72" y1="736.40" x2="504.72" y2="741.00" stroke="#000" stroke-width="2.00"/>
<line x1="516.16" y1="736.40" x2="516.16" y2="741.00" stroke="#000" stroke-width="2.00"/>
<line x1="527.60" y1="736.40" x2="527.60" y2="741.60" stroke="#000" stroke-width="2.40"/>
<line x1="539.04" y1="736.40" x2="539.04" y2="741.00" stroke="#000" stroke-width="2.00"/>
<line x1="550.48" y1="736.40" x2="550.48" y2="741.00" stroke="#000" stroke-width="2.00"/>
<line x1="561.92" y1="736.40" x2="561.92" y2="741.00" stroke="#000" stroke-width="2.00"/>
<line x1="573.36" y1="736.40" x2="573.36" y2="741.00" stroke="#000" stroke-width="2.00"/>
<line x1="584.80" y1="736.40" x2="584.80" y2="741.60" stroke="#000" stroke-width="2.40"/>
<line x1="596.24" y1="736.40" x2="596.24" y2="741.00" stroke="#000" stroke-width="2.00"/>
<line x1="607.68" y1="736.40" x2="607.68" y2="741.00" stroke="#000" stroke-width="2.00"/>
<line x1="619.12" y1="736.40" x2="619.12" y2="741.00" stroke="#000" stroke-width="2.00"/>
<line x1="630.56" y1="736.40" x2="630.56" y2="741.00" stroke="#000" stroke-width="2.00"/>
<line x1="642.00" y1="736.40" x2="642.00" y2="741.60" stroke="#000" stroke-width="2.40"/>
<line x1="653.44" y1="736.40" x2="653.44" y2="741.00" stroke="#000" stroke-width="2.00"/>
<line x1="664.88" y1="736.40" x2="664.88" y2="741.00" stroke="#000" stroke-width="2.00"/>
<line x1="676.32" y1="736.40" x2="676.32" y2="741.00" stroke="#000" stroke-width="2.00"/>
<line x1="687.76" y1="736.40" x2="687.76" y2="741.00" stroke="#000" stroke-width="2.00"/>
<line x1="699.20" y1="736.40" x2="699.20" y2="741.60" stroke="#000" stroke-width="2.40"/>
<line x1="710.64" y1="736.40" x2="710.64" y2="741.00" stroke="#000" stroke-width="2.00"/>
<line x1="722.08" y1="736.40" x2="722.08" y2="741.00" stroke="#000" stroke-width="2.00"/>
<line x1="733.52" y1="736.40" x2="733.52" y2="741.00" stroke="#000" stroke-width="2.00"/>
<line x1="744.96" y1="736.40" x2="744.96" y2="741.00" stroke="#000" stroke-width="2.00"/>
<line x1="756.40" y1="736.40" x2="756.40" y2="741.60" stroke="#000" stroke-width="2.40"/>
<text transform="translate(470.40 767.70) scale(1 1.060)" text-anchor="middle" font-size="15.6" font-weight="bold">0</text>
<text transform="translate(527.60 767.70) scale(1 1.060)" text-anchor="middle" font-size="15.6" font-weight="bold">0.05</text>
<text transform="translate(584.80 767.70) scale(1 1.060)" text-anchor="middle" font-size="15.6" font-weight="bold">0.1</text>
<text transform="translate(642.00 767.70) scale(1 1.060)" text-anchor="middle" font-size="15.6" font-weight="bold">0.15</text>
<text transform="translate(699.20 767.70) scale(1 1.060)" text-anchor="middle" font-size="15.6" font-weight="bold">0.2</text>
<text transform="translate(756.40 767.70) scale(1 1.060)" text-anchor="middle" font-size="15.6" font-weight="bold">0.25</text>
<circle cx="470.8" cy="508.4" r="3.45" fill="#fff" stroke="#000" stroke-width="1.15"/>
<circle cx="482.4" cy="499.2" r="3.45" fill="#fff" stroke="#000" stroke-width="1.15"/>
<circle cx="493.5" cy="502.3" r="3.45" fill="#fff" stroke="#000" stroke-width="1.15"/>
<circle cx="505.1" cy="480.7" r="3.45" fill="#fff" stroke="#000" stroke-width="1.15"/>
<circle cx="516.6" cy="495.7" r="3.45" fill="#fff" stroke="#000" stroke-width="1.15"/>
<circle cx="527.8" cy="517.7" r="3.45" fill="#fff" stroke="#000" stroke-width="1.15"/>
<circle cx="539.3" cy="495.7" r="3.45" fill="#fff" stroke="#000" stroke-width="1.15"/>
<circle cx="550.5" cy="501.9" r="3.45" fill="#fff" stroke="#000" stroke-width="1.15"/>
<circle cx="562.1" cy="512.3" r="3.45" fill="#fff" stroke="#000" stroke-width="1.15"/>
<circle cx="573.6" cy="515.8" r="3.45" fill="#fff" stroke="#000" stroke-width="1.15"/>
<circle cx="584.8" cy="508.4" r="3.45" fill="#fff" stroke="#000" stroke-width="1.15"/>
<circle cx="596.3" cy="522.3" r="3.45" fill="#fff" stroke="#000" stroke-width="1.15"/>
<circle cx="607.9" cy="532.3" r="3.45" fill="#fff" stroke="#000" stroke-width="1.15"/>
<circle cx="619.1" cy="540.0" r="3.45" fill="#fff" stroke="#000" stroke-width="1.15"/>
<circle cx="630.6" cy="561.6" r="3.45" fill="#fff" stroke="#000" stroke-width="1.15"/>
<circle cx="642.2" cy="576.6" r="3.45" fill="#fff" stroke="#000" stroke-width="1.15"/>
<circle cx="653.7" cy="569.7" r="3.45" fill="#fff" stroke="#000" stroke-width="1.15"/>
<circle cx="665.3" cy="562.0" r="3.45" fill="#fff" stroke="#000" stroke-width="1.15"/>
<circle cx="676.8" cy="548.1" r="3.45" fill="#fff" stroke="#000" stroke-width="1.15"/>
<circle cx="688.0" cy="576.6" r="3.45" fill="#fff" stroke="#000" stroke-width="1.15"/>
<circle cx="699.5" cy="592.0" r="3.45" fill="#fff" stroke="#000" stroke-width="1.15"/>
<circle cx="710.7" cy="613.2" r="3.45" fill="#fff" stroke="#000" stroke-width="1.15"/>
<circle cx="722.3" cy="622.8" r="3.45" fill="#fff" stroke="#000" stroke-width="1.15"/>
<circle cx="733.8" cy="596.2" r="3.45" fill="#fff" stroke="#000" stroke-width="1.15"/>
<circle cx="745.4" cy="587.8" r="3.45" fill="#fff" stroke="#000" stroke-width="1.15"/>
<text x="485.4" y="441.5" font-size="23.9" font-weight="bold">DSPC/DMPE</text>
<text transform="translate(396.8 446.8) scale(1 1.075)" font-size="41.5" font-weight="bold">D</text>
<text transform="translate(416.1 593.3) rotate(-90) scale(1.06 1)" text-anchor="middle" font-size="23" font-weight="bold"><tspan font-style="italic" font-weight="normal" font-size="21.5" style="stroke-width:.9px">Δ</tspan><tspan font-style="italic" dx="0.5">H</tspan><tspan font-size="14.6" dy="6.6">Rel,1</tspan><tspan dy="-6.6" dx="-1.5"> (%)</tspan></text>
<text x="597.7" y="797.0" font-size="22.5" font-weight="bold"><tspan font-style="italic">X</tspan><tspan font-size="13.8" dy="4.7" dx="-0.8">PE</tspan></text></g>
</svg>
</body></html>
